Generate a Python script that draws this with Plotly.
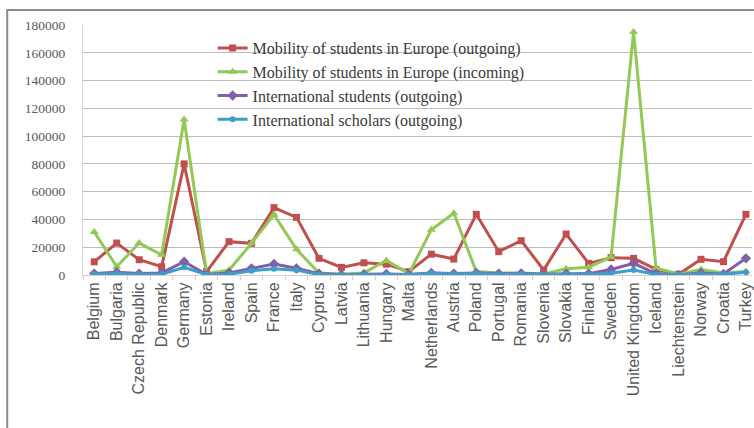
import plotly.graph_objects as go

countries = ["Belgium", "Bulgaria", "Czech Republic", "Denmark", "Germany", "Estonia",
             "Ireland", "Spain", "France", "Italy", "Cyprus", "Latvia", "Lithuania",
             "Hungary", "Malta", "Netherlands", "Austria", "Poland", "Portugal", "Romania",
             "Slovenia", "Slovakia", "Finland", "Sweden", "United Kingdom", "Iceland",
             "Liechtenstein", "Norway", "Croatia", "Turkey"]

mob_out = [9500, 23000, 11000, 6000, 80000, 2500, 24000, 22800, 48500, 41500,
           12000, 5500, 8800, 7800, 2400, 15000, 11500, 43700, 16800, 24700,
           3600, 29500, 8400, 12500, 12000, 4000, 500, 11300, 9600, 43700]

mob_in = [31000, 6000, 23000, 14500, 112000, 1000, 3600, 22800, 43500, 18500,
          1500, 500, 1500, 10500, 1000, 32500, 44500, 2500, 1500, 1500,
          800, 4500, 5500, 13000, 175000, 5000, 500, 4000, 1500, 2500]

int_students = [1000, 2000, 1000, 1500, 9600, 300, 1500, 4800, 7900, 4800,
                1000, 300, 500, 800, 300, 1500, 1000, 1500, 1000, 1200,
                500, 1000, 1000, 4000, 8400, 1000, 100, 1500, 800, 12000]

int_scholars = [500, 1000, 500, 500, 5500, 200, 600, 3000, 4500, 3500,
                300, 200, 300, 500, 200, 1500, 800, 1000, 600, 800,
                300, 600, 600, 1200, 3600, 300, 100, 800, 500, 2000]

y_ticks = [0, 20000, 40000, 60000, 80000, 100000, 120000, 140000, 160000, 180000]

series = [
    ("Mobility of students in Europe (outgoing)", mob_out, "#C0504D", "square", 7),
    ("Mobility of students in Europe (incoming)", mob_in, "#92C857", "triangle-up", 8),
    ("International students (outgoing)", int_students, "#7F60A6", "diamond", 8),
    ("International scholars (outgoing)", int_scholars, "#3D9DCB", "circle", 6),
]

fig = go.Figure()
for name, vals, col, sym, sz in series:
    fig.add_trace(go.Scatter(
        x=countries, y=vals, name=name, mode="lines+markers",
        line=dict(color=col, width=3),
        marker=dict(symbol=sym, size=sz, color=col),
    ))

W, H = 754, 428
L, T, B = 83, 25, 153
pw = W - L
ph = H - T - B

def px_x(p):
    return (p - L) / pw

def px_y(p):
    return (H - B - p) / ph

fig.update_layout(
    width=W, height=H,
    margin=dict(l=L, r=0, t=T, b=B),
    paper_bgcolor="white", plot_bgcolor="white",
    showlegend=True,
    legend=dict(
        x=px_x(213), y=px_y(31), xanchor="left", yanchor="top",
        bgcolor="rgba(0,0,0,0)",
        font=dict(family="Liberation Serif", size=16, color="#3A3A3A"),
        tracegroupgap=0,
    ),
    xaxis=dict(
        type="category",
        range=[-0.5, 29.27],
        tickangle=-90,
        tickfont=dict(family="Liberation Sans", size=16, color="#595959"),
        showgrid=False,
        ticks="outside", tickson="boundaries", ticklen=4, tickcolor="#E3C9C9",
        showline=True, linecolor="#E3C9C9", linewidth=1,
        zeroline=False,
    ),
    yaxis=dict(
        range=[0, 180000],
        tickvals=y_ticks,
        ticktext=[str(v) for v in y_ticks],
        tickfont=dict(family="Liberation Serif", size=13.5, color="#595959"),
        showgrid=True, gridcolor="#BDBDBD", gridwidth=1.3,
        showline=True, linecolor="#D9D9D9", linewidth=1,
        zeroline=False,
        ticks="", ticklabelstandoff=14,
    ),
    shapes=[
        dict(type="rect", xref="paper", yref="paper",
             x0=px_x(7), x1=px_x(770), y0=px_y(460), y1=px_y(10),
             line=dict(color="#8C8C8C", width=2), layer="below"),
    ],
)

fig.write_html("out.html")
